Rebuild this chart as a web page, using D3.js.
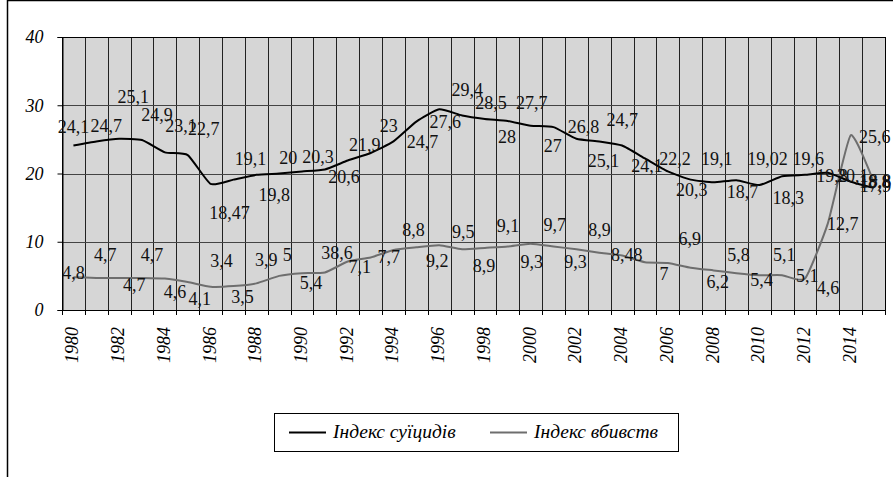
<!DOCTYPE html>
<html>
<head>
<meta charset="utf-8">
<script src="https://cdn.jsdelivr.net/npm/d3@7"></script>
<style>
    body { margin: 0; background: #fff; }
</style>
</head>
<body>
<svg id="chart" width="893" height="477"></svg>
<script>
const years = [1980, 1981, 1982, 1983, 1984, 1985, 1986, 1987, 1988, 1989,
    1990, 1991, 1992, 1993, 1994, 1995, 1996, 1997, 1998, 1999,
    2000, 2001, 2002, 2003, 2004, 2005, 2006, 2007, 2008, 2009,
    2010, 2011, 2012, 2013, 2014, 2015];

// Індекс суїцидів
const suicide = [24.1, 24.7, 25.1, 24.9, 23.1, 22.7, 18.47, 19.1, 19.8, 20,
    20.3, 20.6, 21.9, 23, 24.7, 27.6, 29.4, 28.5, 28, 27.7,
    27, 26.8, 25.1, 24.7, 24.1, 22.2, 20.3, 19.1, 18.7, 19.02,
    18.3, 19.6, 19.8, 20.1, 18.8, 17.9];

// Індекс вбивств
const homicide = [4.8, 4.7, 4.7, 4.7, 4.6, 4.1, 3.4, 3.5, 3.9, 5,
    5.4, 5.5, 7.1, 7.7, 8.8, 9.2, 9.5, 8.9, 9.1, 9.3,
    9.7, 9.3, 8.9, 8.4, 8, 7, 6.9, 6.2, 5.8, 5.4,
    5.1, 5.1, 4.6, 12.7, 25.6, 18.8];

const yTicks = [0, 10, 20, 30, 40];
const yearTicks = years.filter(y => y % 2 === 0);
const seriesNames = ['Індекс суїцидів', 'Індекс вбивств'];

// label text as printed in the source (one label there is garbled)
const homicideLabelText = { 1991: '38,6' };

// hand-placed label offsets from each point, [dx, baseline dy]
const suicideLabelOff = [[0,-13],[10,-9],[14,-36],[15,-19],[16,-20],[16,-20],[19,35],[17,-15],[18,26],[9,-10],
    [16,-8],[19,14],[17,-10],[18,-21],[29,7],[29,6],[28,-13],[29,-6],[22,24],[24,-12],
    [22,26],[30,6],[27,28],[23,-15],[25,26],[30,7],[24,25],[26,-15],[29,16],[31,-15],
    [29,19],[26,-11],[27,7],[25,9],[24,6],[2,4]];
const homicideLabelOff = [[0,2],[9,-17],[15,13],[10,-17],[10,19],[12,23],[11,-20],[9,17],[10,-17],[8,-15],
    [9,16],[12,-13],[12,11],[18,6],[20,-14],[21,20],[24,-7],[22,23],[23,-16],[24,21],
    [24,-13],[22,21],[23,-13],[23,8],[16,6],[19,18],[22,-18],[27,20],[25,-9],[25,13],
    [25,-14],[25,7],[23,15],[15,7],[24,8],[2,5]];

const svg = d3.select('#chart');

// serif text in the Excel look; family given alone so italic faces resolve
function serif(sel, size, italic) {
    sel.style('font-family', 'Liberation Serif')
        .style('font-size', size + 'px')
        .style('font-style', italic ? 'italic' : 'normal')
        .attr('fill', '#000');
    return sel;
}

// outer frame of the chart (cropped on the right and bottom)
svg.append('path')
    .attr('d', 'M7.5,477V0.5H893')
    .attr('fill', 'none')
    .attr('stroke', '#000')
    .attr('stroke-width', 1.5);

const x = d3.scaleBand()
    .domain(years)
    .range([62, 885]);

const y = d3.scaleLinear()
    .domain([0, 40])
    .range([310, 37]);

const xc = yr => x(yr) + x.bandwidth() / 2;

svg.append('rect')
    .attr('x', x.range()[0])
    .attr('y', y(40))
    .attr('width', x.range()[1] - x.range()[0])
    .attr('height', y(0) - y(40))
    .attr('fill', '#d6d6d6');

// vertical grid at category boundaries
svg.append('g')
    .selectAll('line')
    .data(years.slice(1))
    .join('line')
    .attr('x1', d => Math.round(x(d)) + 0.5)
    .attr('x2', d => Math.round(x(d)) + 0.5)
    .attr('y1', y(40))
    .attr('y2', y(0))
    .attr('stroke', '#222')
    .attr('stroke-width', 1);

svg.append('g')
    .selectAll('line')
    .data(yTicks.slice(1, -1))
    .join('line')
    .attr('x1', x.range()[0])
    .attr('x2', x.range()[1])
    .attr('y1', d => Math.round(y(d)) + 0.5)
    .attr('y2', d => Math.round(y(d)) + 0.5)
    .attr('stroke', '#444')
    .attr('stroke-width', 1);

svg.append('rect')
    .attr('x', x.range()[0] + 0.5)
    .attr('y', y(40) + 0.5)
    .attr('width', x.range()[1] - x.range()[0])
    .attr('height', y(0) - y(40))
    .attr('fill', 'none')
    .attr('stroke', '#000')
    .attr('stroke-width', 1);

// y axis
const yAxis = svg.append('g')
    .attr('transform', `translate(${x.range()[0] + 0.5},0)`)
    .call(d3.axisLeft(y).tickValues(yTicks).tickSize(5).tickPadding(14));
yAxis.attr('font-family', null);
yAxis.select('.domain').attr('stroke', '#000');
yAxis.selectAll('.tick line').attr('stroke', '#000');
serif(yAxis.selectAll('text'), 18, true);

// x axis: ticks between categories, year labels rotated
svg.append('g')
    .selectAll('line')
    .data([...years, 'end'])
    .join('line')
    .attr('x1', d => (d === 'end' ? x.range()[1] : Math.round(x(d))) + 0.5)
    .attr('x2', d => (d === 'end' ? x.range()[1] : Math.round(x(d))) + 0.5)
    .attr('y1', y(0))
    .attr('y2', y(0) + 5)
    .attr('stroke', '#000');

const yearLabels = svg.append('g')
    .selectAll('text')
    .data(yearTicks)
    .join('text')
    .attr('transform', d => `translate(${xc(d) + 5},327) rotate(-90)`)
    .attr('text-anchor', 'end')
    .text(d => d);
serif(yearLabels, 18, true);

const line = d3.line()
    .x((d, i) => xc(years[i]))
    .y(d => y(d))
    .curve(d3.curveCardinal.tension(0.5));

svg.append('path')
    .datum(homicide)
    .attr('d', line)
    .attr('fill', 'none')
    .attr('stroke', '#6e6e6e')
    .attr('stroke-width', 2);

svg.append('path')
    .datum(suicide)
    .attr('d', line)
    .attr('fill', 'none')
    .attr('stroke', '#000')
    .attr('stroke-width', 2);

const fmt = v => String(v).replace('.', ',');

function drawLabels(values, offsets, overrides) {
    const t = svg.append('g')
        .selectAll('text')
        .data(values)
        .join('text')
        .attr('x', (d, i) => xc(years[i]) + offsets[i][0])
        .attr('y', (d, i) => y(d) + offsets[i][1])
        .attr('text-anchor', 'middle')
        .text((d, i) => overrides[years[i]] || fmt(d));
    serif(t, 18, false).attr('fill', '#111');
}

drawLabels(homicide, homicideLabelOff, homicideLabelText);
drawLabels(suicide, suicideLabelOff, {});

// legend
const legend = svg.append('g');
legend.append('rect')
    .attr('x', 274.5)
    .attr('y', 413.5)
    .attr('width', 404)
    .attr('height', 38)
    .attr('fill', '#fff')
    .attr('stroke', '#000');

const legendItems = [
    { name: seriesNames[0], color: '#000', x: 289 },
    { name: seriesNames[1], color: '#6e6e6e', x: 490 }
];
legendItems.forEach(it => {
    legend.append('line')
        .attr('x1', it.x)
        .attr('x2', it.x + 37)
        .attr('y1', 432.5)
        .attr('y2', 432.5)
        .attr('stroke', it.color)
        .attr('stroke-width', 2);
    const t = legend.append('text')
        .attr('x', it.x + 44)
        .attr('y', 438)
        .text(it.name);
    serif(t, 19.5, true);
});
</script>
</body>
</html>
